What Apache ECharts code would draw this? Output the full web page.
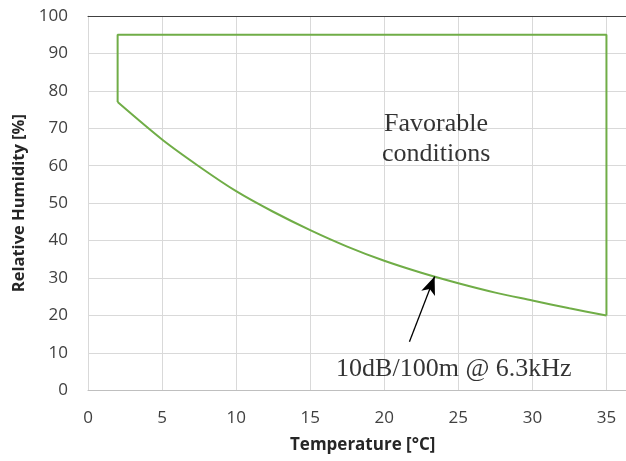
<!DOCTYPE html>
<html>
<head>
<meta charset="utf-8">
<script src="https://cdn.jsdelivr.net/npm/echarts@6/dist/echarts.min.js"></script>
<style>html,body{margin:0;padding:0;background:#fff}#c{width:626px;height:461px}</style>
</head>
<body>
<div id="c"></div>
<script>
// Data
var curveX = [2, 5, 7.5, 10, 12.5, 15, 17.5, 20, 22.5, 25, 27.5, 30, 32.5, 35];
var curveY = [77, 67, 59.8, 53.2, 47.7, 42.8, 38.4, 34.6, 31.4, 28.6, 26.1, 24, 21.9, 20];
var boxX = [2, 2, 35, 35];
var boxY = [77, 95, 95, 20];
var xTicks = [0, 5, 10, 15, 20, 25, 30, 35];
var yTicks = [0, 10, 20, 30, 40, 50, 60, 70, 80, 90, 100];
var labelFavorable = 'Favorable\nconditions';
var labelFavorablePos = [23.5, 67];
var labelCurve = '10dB/100m @ 6.3kHz';
var labelCurvePos = [24.7, 5.7];
var arrowFrom = [21.7, 13];
var arrowTo = [23.4, 30.4];

var chart = echarts.init(document.getElementById('c'), null, {renderer: 'canvas'});
function zip(a, b) { return a.map(function (v, i) { return [v, b[i]]; }); }

var option = {
  animation: false,
  backgroundColor: '#fff',
  grid: {left: 88, top: 16, right: 0, bottom: 70.7, containLabel: false},
  xAxis: [{
    type: 'value', min: 0, max: 36.32, interval: 5,
    axisLine: {show: true, lineStyle: {color: '#bfbfbf', width: 1}},
    axisTick: {show: false},
    axisLabel: {color: '#404040', fontFamily: 'Open Sans', fontSize: 17, margin: 19, showMaxLabel: false,
      formatter: function (v) { return xTicks.indexOf(v) >= 0 ? String(v) : ''; }},
    splitLine: {show: true, showMaxLine: false, lineStyle: {color: '#d9d9d9', width: 1}}
  }, {
    type: 'value', min: 0, max: 36.32, position: 'top',
    axisLine: {show: true, onZero: false, lineStyle: {color: '#404040', width: 1}},
    axisTick: {show: false}, axisLabel: {show: false}, splitLine: {show: false}
  }],
  yAxis: {
    type: 'value', min: 0, max: 100, interval: 10,
    name: 'Relative Humidity [%]', nameLocation: 'middle', nameGap: 58,
    nameTextStyle: {color: '#262626', fontFamily: 'Open Sans', fontWeight: 'bold', fontSize: 16.5},
    axisLine: {show: true, lineStyle: {color: '#d9d9d9', width: 1}},
    axisTick: {show: false},
    axisLabel: {color: '#404040', fontFamily: 'Open Sans', fontSize: 17, margin: 20,
      formatter: function (v) { return yTicks.indexOf(v) >= 0 ? String(v) : ''; }},
    splitLine: {show: true, lineStyle: {color: '#d9d9d9', width: 1}}
  },
  graphic: [{
    type: 'text', left: 290, top: 437,
    style: {text: 'Temperature [°C]', fill: '#262626', font: 'bold 17px "Open Sans"'}
  }],
  series: [{
    type: 'line', data: zip(boxX, boxY), showSymbol: false, symbol: 'none',
    lineStyle: {color: '#70ad47', width: 2}, z: 3
  }, {
    type: 'line', data: zip(curveX, curveY), showSymbol: false, symbol: 'none', smooth: 0.3,
    lineStyle: {color: '#70ad47', width: 2}, z: 3,
    markLine: {
      silent: true, symbol: ['none', 'arrow'], symbolSize: [11, 18],
      lineStyle: {color: '#000', width: 1.3, type: 'solid'}, label: {show: false},
      data: [[{coord: arrowFrom}, {coord: arrowTo}]]
    }
  }, {
    type: 'scatter', symbolSize: 0, silent: true, z: 5,
    data: [
      {value: labelFavorablePos, label: {formatter: labelFavorable, lineHeight: 30}},
      {value: labelCurvePos, label: {formatter: labelCurve}}
    ],
    label: {show: true, position: 'inside', color: '#000', fontFamily: 'Liberation Serif',
      fontSize: 26, align: 'center', verticalAlign: 'middle'}
  }]
};
chart.setOption(option);
</script>
</body>
</html>
